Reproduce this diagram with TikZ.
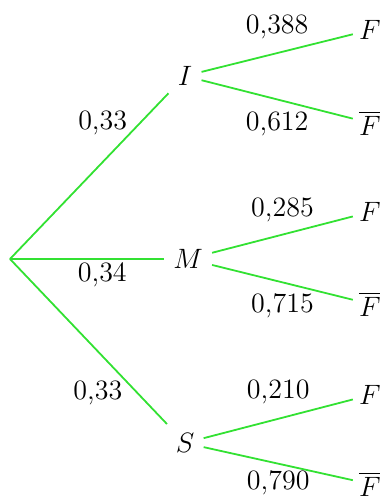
\documentclass[tikz,border=0pt]{standalone}
\usepackage{amsmath,amssymb}
\usepackage{fix-cm}
\usepackage{xcolor}
\usepackage{tikz}
\usetikzlibrary{positioning}
\definecolor{branchgreen}{RGB}{50,225,50}

\begin{document}
\begin{tikzpicture}[x=0.5pt, y=-0.5pt, font=\fontsize{14}{17}\selectfont,
        event/.style={inner sep=4.5pt},
        leaf/.style={inner sep=3pt},
        branch/.style={draw=branchgreen, line width=0.9pt},
        prob/.style={inner sep=0pt}
    ]
        \useasboundingbox (0,0) rectangle (380,499);

        % Nodes
        \coordinate (root) at (10,259);
        \node [event] (i) at (185,76) {$I$};
        \node [event] (m) at (188,259) {$M$};
        \node [event] (s) at (185,443) {$S$};

        \node [leaf] (fi) at (370,30) {$F$};
        \node [leaf] (nfi) at (370,123) {$\overline{F}$};
        \node [leaf] (fm) at (370,212) {$F$};
        \node [leaf] (nfm) at (370,304) {$\overline{F}$};
        \node [leaf] (fs) at (370,395) {$F$};
        \node [leaf] (nfs) at (370,484) {$\overline{F}$};

        % Connectors
        \draw[branch] (root) -- node[prob, pos=0.82, left=6pt] {0,33} (i);
        \draw[branch] (root) -- node[prob, pos=0.6, below=1.5pt] {0,34} (m);
        \draw[branch] (root) -- node[prob, pos=0.81, left=7pt] {0,33} (s);

        \draw[branch] (i) -- node[prob, above=6.5pt] {0,388} (fi);
        \draw[branch] (i) -- node[prob, below=6pt] {0,612} (nfi);
        \draw[branch] (m) -- node[prob, above=6pt] {0,285} (fm);
        \draw[branch] (m) -- node[prob, below=5pt] {0,715} (nfm);
        \draw[branch] (s) -- node[prob, above=7pt] {0,210} (fs);
        \draw[branch] (s) -- node[prob, below=3pt] {0,790} (nfs);
    \end{tikzpicture}
\end{document}
